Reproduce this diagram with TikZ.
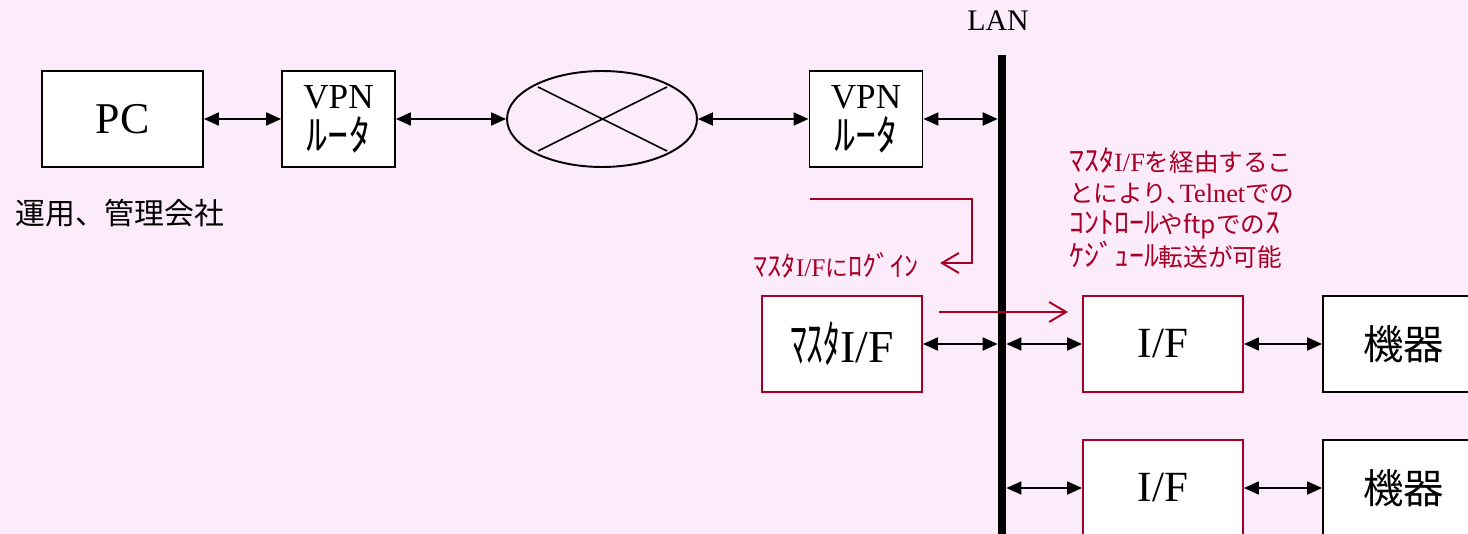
\documentclass[tikz,border=0pt]{standalone}
\usepackage{fontspec}
\setmainfont{Liberation Serif}
\newfontfamily\jp{Noto Sans CJK JP}
\newfontfamily\jpnarrow[FakeStretch=0.66]{Noto Sans CJK JP}
\usetikzlibrary{arrows.meta,calc,positioning,shapes.geometric}
\definecolor{bgpink}{RGB}{252,235,250}
\definecolor{note}{RGB}{168,0,36}
% Japanese runs at a given size: full-width and half-width kana
\newcommand{\ja}[2]{{\jp\fontsize{#1}{17.6}\selectfont #2}}
\tikzset{%
	block/.style    = {draw, line width=1.1pt, fill=white, rectangle, minimum width=3.22cm, minimum height=1.92cm, inner sep=0pt},
	router/.style   = {block, minimum width=2.26cm, align=center, font=\fontsize{20}{24}\selectfont},
	ifblock/.style  = {block, draw=note, minimum width=3.2cm, font=\fontsize{24.5}{30}\selectfont}, % red interface
	device/.style   = {block, font=\jp\fontsize{23}{26}\selectfont},
	cloud/.style    = {draw, ellipse, line width=1.1pt, minimum width=3.8cm, minimum height=1.92cm},
	lanbar/.style   = {fill=black, rectangle, minimum width=0.16cm, minimum height=9.6cm, inner sep=0pt},
	link/.style     = {line width=1.1pt, {Triangle[length=3mm,width=2.6mm]}-{Triangle[length=3mm,width=2.6mm]}},
	hint/.style     = {note, line width=1.1pt, -{Straight Barb[length=3.4mm,width=4mm]}},
	notetext/.style = {text=note, inner sep=0pt},
}

\begin{document}
\begin{tikzpicture}[x=0.02cm, y=-0.02cm]
	\fill[bgpink] (0,0) rectangle (1468,534);
	\useasboundingbox (0,0) rectangle (1468,534);

	% remote side
	\node[block, font=\fontsize{25}{30}\selectfont] (pc) at (122.5,119) {PC};
	\node[anchor=west, inner sep=0pt, font=\jp\fontsize{17}{20}\selectfont] (company) at (15,213) {運用、管理会社};
	\node[router] (vpnA) at (338.5,119) {VPN\\{\jp\fontsize{24}{24}\selectfont ﾙｰﾀ}};
	\node[cloud] (net) at (602,119) {};
	\draw[line width=0.9pt] ($(net.center)+(-64,-32)$) -- ($(net.center)+(65,32)$);
	\draw[line width=0.9pt] ($(net.center)+(-64,32)$) -- ($(net.center)+(65,-32)$);
	\node[router] (vpnB) at (866,119) {VPN\\{\jp\fontsize{24}{24}\selectfont ﾙｰﾀ}};

	% LAN side
	\node[lanbar] (lan) at (1002,295) {};
	\node[font=\fontsize{17}{20}\selectfont] (lanlabel) at (998,21) {LAN};
	\node[ifblock] (master) at (842,344) {{\jpnarrow\fontsize{29}{30}\selectfont ﾏｽﾀ}{\fontsize{26}{30}\selectfont I/F}};
	\node[ifblock] (ifA) at (1163,344) {I/F};
	\node[ifblock] (ifB) at (1163,488) {I/F};
	\node[device] (devA) at (1403.5,344) {機器};
	\node[device] (devB) at (1403.5,488) {機器};

	\draw[link] (pc) -- (vpnA);
	\draw[link] (vpnA) -- (net);
	\draw[link] (net) -- (vpnB);
	\draw[link] (vpnB) -- (vpnB -| lan.west);
	\draw[link] (master) -- (master -| lan.west);
	\draw[link] (lan.east |- ifA) -- (ifA);
	\draw[link] (ifA) -- (devA);
	\draw[link] (lan.east |- ifB) -- (ifB);
	\draw[link] (ifB) -- (devB);

	% notes
	\coordinate (loginfrom) at (810,199);
	\coordinate (loginbend) at (972,263);
	\coordinate (loginto) at (940,263);
	\draw[hint] (loginfrom) -| (loginbend) -- (loginto);
	\node[notetext, anchor=east, font=\fontsize{14.5}{18}\selectfont] (logintext) at (919,265)
		{\ja{16}{ﾏｽﾀ}I/F\ja{13}{に}\ja{16}{ﾛｸﾞｲﾝ}};
	\coordinate (cmdfrom) at (939,312);
	\coordinate (cmdto) at (1068,312);
	\draw[hint] (cmdfrom) -- (cmdto);
	\node[notetext, anchor=north west, align=left, font=\fontsize{15}{17.6}\selectfont] (remark) at (1069,147)
		{\ja{17}{ﾏｽﾀ}I/F\ja{14}{を経由するこ}\\
		\ja{14}{とにより、\kern-0.45em}Telnet\ja{14}{での}\\
		\ja{17}{ｺﾝﾄﾛｰﾙ}\ja{14}{やftpでの}\ja{17}{ｽ}\\
		\ja{17}{ｹｼﾞｭｰﾙ}\ja{14}{転送が可能}};
\end{tikzpicture}
\end{document}
